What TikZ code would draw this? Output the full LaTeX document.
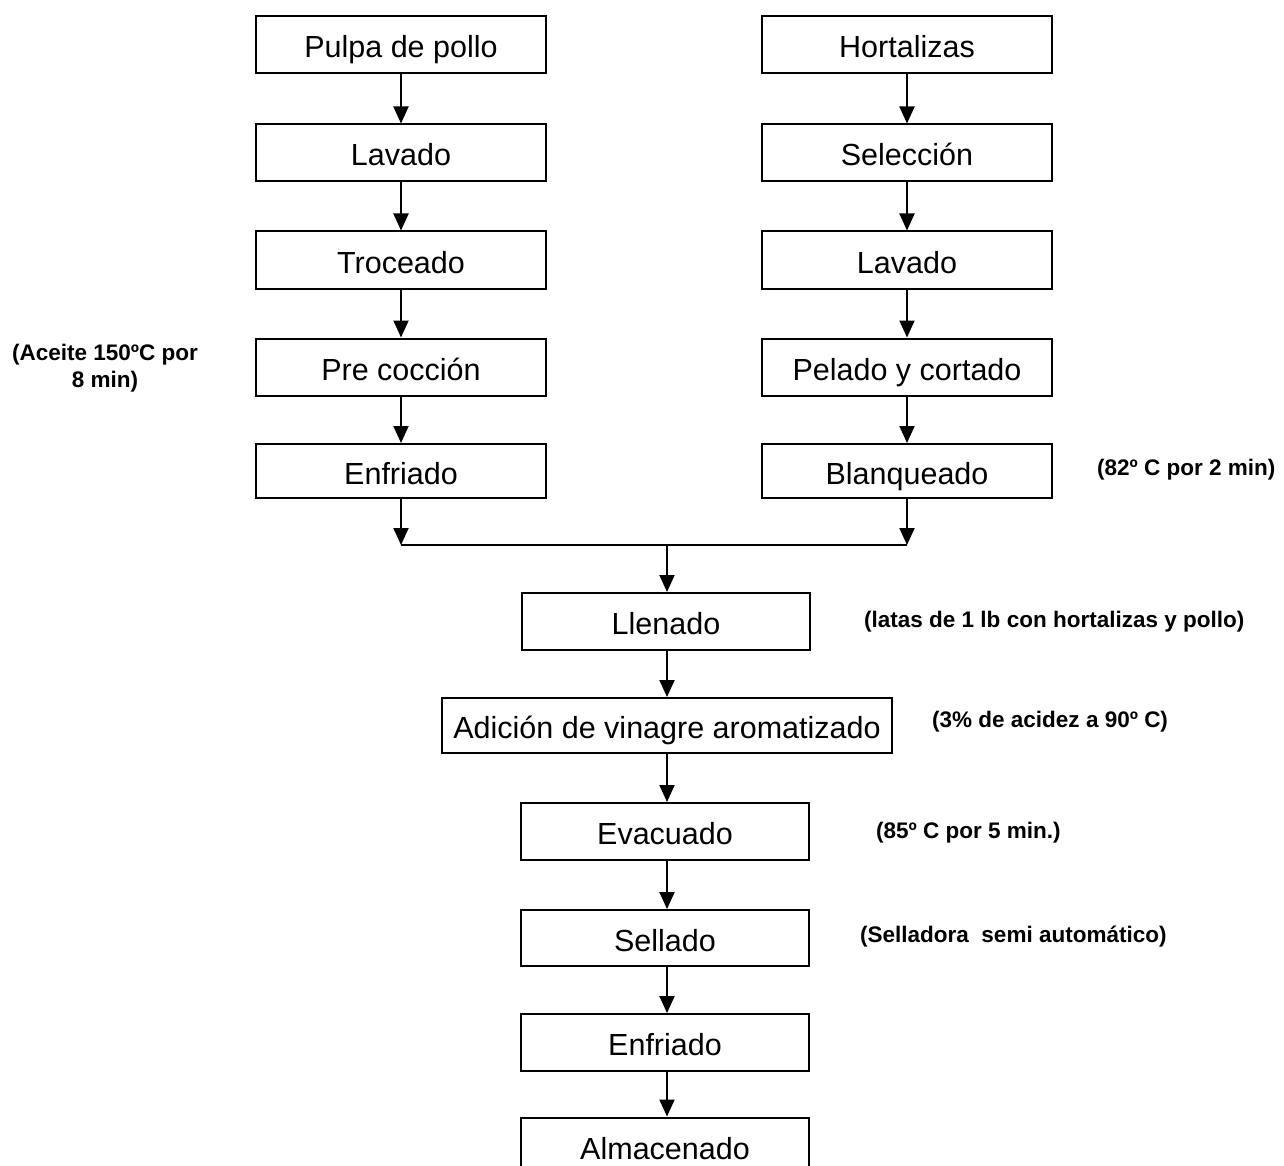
\documentclass[tikz,border=0pt]{standalone}
\usepackage{fontspec}
\setmainfont{Liberation Sans}
\usetikzlibrary{arrows.meta}
\tikzset{
  stepbox/.style={draw=black, line width=2pt, minimum height=57pt, inner sep=0pt,
    text height=26pt, text depth=0pt,
    font=\fontsize{30.5}{36}\selectfont, text=black},
  colbox/.style={stepbox, minimum width=290pt},
  midbox/.style={stepbox, minimum width=288pt},
  note/.style={font=\bfseries\fontsize{22.5}{27}\selectfont, inner sep=0pt, text=black},
  arr/.style={line width=2pt, -{Triangle[width=15pt,length=17pt]}},
  ln/.style={line width=2pt}
}
\begin{document}
\begin{tikzpicture}[x=1pt,y=-1pt]
\useasboundingbox (0,0) rectangle (1284,1166);
\clip (0,0) rectangle (1284,1166);
\fill[white] (0,0) rectangle (1284,1166);
% left column
\node[colbox] (p1) at (401,45) {Pulpa de pollo};
\node[colbox] (p2) at (401,153) {Lavado};
\node[colbox] (p3) at (401,260) {Troceado};
\node[colbox] (p4) at (401,367) {Pre cocción};
\node[colbox, minimum height=54pt] (p5) at (401,471) {Enfriado};
% right column
\node[colbox] (h1) at (907,45) {Hortalizas};
\node[colbox] (h2) at (907,153) {Selección};
\node[colbox] (h3) at (907,260) {Lavado};
\node[colbox] (h4) at (907,367) {Pelado y cortado};
\node[colbox, minimum height=54pt] (h5) at (907,471) {Blanqueado};
% merge
\coordinate (ml) at (401,545);
\coordinate (mr) at (907,545);
\coordinate (mc) at (667,545);
% centre column
\node[midbox] (c1) at (666,621.5) {Llenado};
\node[stepbox, minimum width=450pt, minimum height=55pt] (c2) at (667,725.5) {Adición de vinagre aromatizado};
\node[midbox] (c3) at (665,831.5) {Evacuado};
\node[midbox, minimum height=56pt] (c4) at (665,938) {Sellado};
\node[midbox] (c5) at (665,1042.5) {Enfriado};
\node[midbox] (c6) at (665,1146) {Almacenado};
% arrows
\draw[arr] (p1) -- (p2);
\draw[arr] (p2) -- (p3);
\draw[arr] (p3) -- (p4);
\draw[arr] (p4) -- (p5);
\draw[arr] (h1) -- (h2);
\draw[arr] (h2) -- (h3);
\draw[arr] (h3) -- (h4);
\draw[arr] (h4) -- (h5);
\draw[arr] (p5) -- (ml);
\draw[arr] (h5) -- (mr);
\draw[ln] (ml) -- (mr);
\draw[arr] (mc) -- (c1.north -| mc);
\draw[arr] (c1.south -| mc) -- (c2.north -| mc);
\draw[arr] (c2.south -| mc) -- (c3.north -| mc);
\draw[arr] (c3.south -| mc) -- (c4.north -| mc);
\draw[arr] (c4.south -| mc) -- (c5.north -| mc);
\draw[arr] (c5.south -| mc) -- (c6.north -| mc);
% notes
\node[note, align=center] (n1) at (105,368) {(Aceite 150ºC por\\8 min)};
\node[note, anchor=west] (n2) at (1097,470) {(82º C por 2 min)};
\node[note, anchor=west] (n3) at (864,622) {(latas de 1 lb con hortalizas y pollo)};
\node[note, anchor=west] (n4) at (932,722) {(3\% de acidez a 90º C)};
\node[note, anchor=west] (n5) at (876,833) {(85º C por 5 min.)};
\node[note, anchor=west] (n6) at (860,937) {(Selladora\ \ semi automático)};
\end{tikzpicture}
\end{document}
